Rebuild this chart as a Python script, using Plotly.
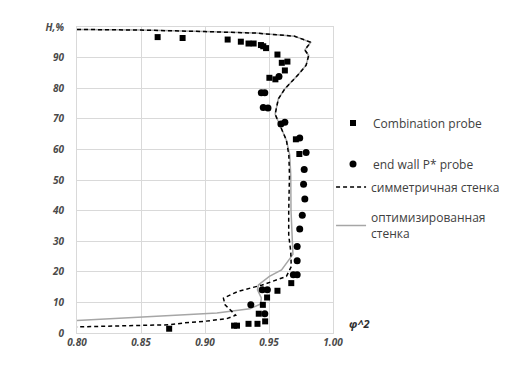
import plotly.graph_objects as go

# Combination probe (squares)
combo_x = [0.863, 0.8825, 0.9177, 0.928, 0.934, 0.938, 0.9437, 0.9455, 0.9477, 0.9566, 0.960, 0.9644,
           0.9624, 0.9503, 0.955, 0.971, 0.9737, 0.9674, 0.9566, 0.9485, 0.9452, 0.942, 0.947,
           0.941, 0.934, 0.9227, 0.925, 0.872]
combo_y = [96.7, 96.4, 95.9, 95.2, 94.6, 94.6, 94.1, 93.7, 93.1, 91.0, 88.3, 88.7,
           85.8, 83.4, 82.9, 63.3, 58.5, 16.3, 13.8, 11.6, 9.2, 6.3, 3.8,
           3.0, 3.0, 2.4, 2.4, 1.4]

# end wall P* probe (circles)
wall_x = [0.9578, 0.944, 0.9467, 0.9455, 0.9492, 0.9593, 0.9624, 0.974, 0.979, 0.9775, 0.977,
          0.978, 0.976, 0.974, 0.972, 0.972, 0.969, 0.972, 0.9447, 0.9487, 0.9358, 0.9467]
wall_y = [83.8, 78.5, 78.5, 73.7, 73.5, 68.3, 68.9, 63.7, 59.0, 53.4, 48.6,
          43.8, 38.5, 34.0, 28.3, 23.6, 19.0, 19.0, 14.1, 14.1, 9.2, 6.3]

# symmetric wall (dashed)
sym_x = [0.80, 0.85, 0.90, 0.94, 0.97, 0.9826, 0.978, 0.981, 0.979, 0.9724, 0.9624, 0.9573, 0.9548,
         0.9586, 0.9636, 0.9655, 0.966, 0.9654, 0.9654, 0.967, 0.9674, 0.9636, 0.9447, 0.9258,
         0.9144, 0.9157, 0.9207, 0.924, 0.917, 0.8992, 0.8841, 0.8727, 0.80]
sym_y = [99.2, 99.0, 98.5, 98.0, 97.0, 95.0, 92.5, 90.7, 87.5, 84.2, 79.8, 76.5, 71.5,
         67.8, 63.0, 58.1, 51.6, 39.6, 32.0, 26.6, 21.7, 18.5, 15.7, 13.6,
         11.4, 9.2, 7.3, 5.8, 4.7, 3.8, 3.3, 2.7, 2.0]

# optimized wall (solid grey)
opt_x = [0.80, 0.85, 0.90, 0.94, 0.97, 0.9826, 0.978, 0.981, 0.979, 0.9724, 0.9624, 0.9573, 0.9548,
         0.9586, 0.9636, 0.9662, 0.967, 0.9672, 0.9678, 0.9687, 0.9598, 0.9503, 0.9417, 0.941,
         0.944, 0.9435, 0.935, 0.9093, 0.8841, 0.8487, 0.80]
opt_y = [99.2, 99.0, 98.5, 98.0, 97.0, 95.0, 92.5, 90.7, 87.5, 84.2, 79.8, 76.5, 71.5,
         67.8, 63.0, 58.1, 51.6, 40.0, 31.0, 25.7, 20.6, 18.5, 15.7, 14.1,
         11.5, 9.5, 7.9, 6.5, 6.0, 5.1, 4.1]

x_ticks = [0.80, 0.85, 0.90, 0.95, 1.00]
x_ticktext = ["0.80", "0.85", "0.90", "0.95", "1.00"]
y_ticks = [0, 10, 20, 30, 40, 50, 60, 70, 80, 90, 100]
y_ticktext = ["0", "10", "20", "30", "40", "50", "60", "70", "80", "90", "H,%"]

FONT = "Open Sans"
TICKCOL = "#4a4a4a"
LEGCOL = "#404040"

fig = go.Figure()
fig.add_trace(go.Scatter(x=opt_x, y=opt_y, mode="lines", name="оптимизированная<br>стенка",
                         line=dict(color="#a6a6a6", width=1.5), legend="legend4"))
fig.add_trace(go.Scatter(x=sym_x, y=sym_y, mode="lines", name="симметричная стенка",
                         line=dict(color="black", width=1.5, dash="4px,3px"), legend="legend3"))
fig.add_trace(go.Scatter(x=combo_x, y=combo_y, mode="markers", name="Combination probe",
                         marker=dict(symbol="square", size=6, color="black"), legend="legend"))
fig.add_trace(go.Scatter(x=wall_x, y=wall_y, mode="markers", name="end wall P* probe",
                         marker=dict(symbol="circle", size=7, color="black"), legend="legend2"))

L, R, T, B = 69, 176, 19, 40
W, H = 509, 365
pw = W - L - R
ph = H - T - B

def py(p):
    return (H - B - p) / ph

def px(p):
    return (p - L) / pw

leg_common = dict(xanchor="left", yanchor="middle", bgcolor="rgba(0,0,0,0)",
                  font=dict(family=FONT, size=12, color=LEGCOL), itemwidth=30)
fig.update_layout(
    width=W, height=H,
    margin=dict(l=L, r=R, t=T, b=B),
    paper_bgcolor="white", plot_bgcolor="white",
    showlegend=True,
    legend=dict(x=px(333), y=py(115), **leg_common),
    legend2=dict(x=px(333), y=py(156), **leg_common),
    legend3=dict(x=px(331), y=py(179), **leg_common),
    legend4=dict(x=px(331), y=py(218), **leg_common),
    xaxis=dict(range=[0.80, 1.00], tickvals=x_ticks, ticktext=x_ticktext,
               showgrid=True, gridcolor="#d9d9d9", gridwidth=1,
               showline=True, linecolor="#d9d9d9", mirror=True, zeroline=False,
               ticks="", ticklabelstandoff=0,
               tickfont=dict(family=FONT, size=10, color=TICKCOL, weight="bold", style="italic")),
    yaxis=dict(range=[0, 100], tickvals=y_ticks, ticktext=y_ticktext,
               showgrid=True, gridcolor="#d9d9d9", gridwidth=1,
               showline=True, linecolor="#d9d9d9", mirror=True, zeroline=False,
               ticks="", ticklabelstandoff=10,
               tickfont=dict(family=FONT, size=10, color=TICKCOL, weight="bold", style="italic")),
    annotations=[dict(text="φ^2", xref="paper", yref="paper", x=px(347), y=py(315),
                      xanchor="left", yanchor="middle", showarrow=False,
                      font=dict(family=FONT, size=11, color="#303030", weight="bold", style="italic"))],
)

fig.write_html("out.html")
